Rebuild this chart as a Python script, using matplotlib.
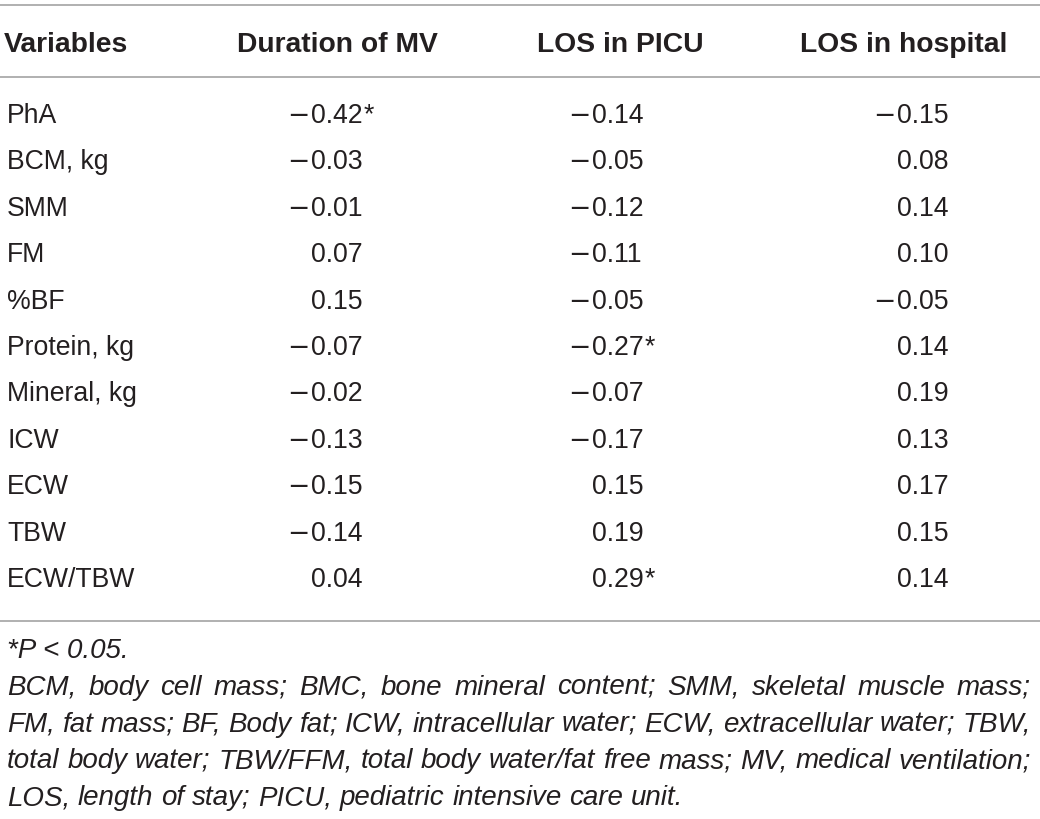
import matplotlib
matplotlib.use("Agg")
import matplotlib.pyplot as plt

# table contents
headers = ["Variables", "Duration of MV", "LOS in PICU", "LOS in hospital"]
variables = ["PhA", "BCM, kg", "SMM", "FM", "%BF", "Protein, kg", "Mineral, kg",
             "ICW", "ECW", "TBW", "ECW/TBW"]
mv = [-0.42, -0.03, -0.01, 0.07, 0.15, -0.07, -0.02, -0.13, -0.15, -0.14, 0.04]
picu = [-0.14, -0.05, -0.12, -0.11, -0.05, -0.27, -0.07, -0.17, 0.15, 0.19, 0.29]
hosp = [-0.15, 0.08, 0.14, 0.10, -0.05, 0.14, 0.19, 0.13, 0.17, 0.15, 0.14]
# significant (P < 0.05) cells
mv_sig = ["PhA"]
picu_sig = ["Protein, kg", "ECW/TBW"]
hosp_sig = []

note_p = "*P < 0.05."
note_lines = [
    "BCM, body cell mass; BMC, bone mineral content; SMM, skeletal muscle mass;",
    "FM, fat mass; BF, Body fat; ICW, intracellular water; ECW, extracellular water; TBW,",
    "total body water; TBW/FFM, total body water/fat free mass; MV, medical ventilation;",
    "LOS, length of stay; PICU, pediatric intensive care unit.",
]

FONT = "Liberation Sans"
TXT = "#231f20"
LINE = "#a3a3a3"
FS = 19.2      # body
FS_HEAD = 20.3
FS_NOTE = 20

fig = plt.figure(figsize=(10.4, 8.19), dpi=100)
ax = fig.add_axes([0, 0, 1, 1])
ax.set_xlim(0, 1040)
ax.set_ylim(819, 0)
ax.axis("off")

# rules
for y in [5, 77, 621]:
    ax.plot([0, 1040], [y, y], color=LINE, lw=1.2, solid_capstyle="butt")

# header
head_x = [4, 237, 537, 800]
for hx, h in zip(head_x, headers):
    ax.text(hx, 52, h, ha="left", va="baseline", fontsize=FS_HEAD,
            fontweight="bold", family=FONT, color=TXT)

row_y0 = 123
row_step = 46.4
digit_x = [311, 592, 897]


def put_value(x, y, v):
    s = f"{abs(v):.2f}"
    t = ax.text(x, y, s, ha="left", va="baseline", fontsize=FS,
                family=FONT, color=TXT)
    if v < 0:
        ax.text(x - 1.5, y, "\u2212", ha="right", va="baseline", fontsize=FS,
                family="DejaVu Sans", color=TXT)
    return t


stars = []
for i, name in enumerate(variables):
    y = row_y0 + i * row_step
    ax.text(7, y, name, ha="left", va="baseline", fontsize=FS,
            family=FONT, color=TXT)
    for col, (vals, sig) in enumerate([(mv, mv_sig), (picu, picu_sig), (hosp, hosp_sig)]):
        t = put_value(digit_x[col], y, vals[i])
        if name in sig:
            stars.append((t, y))

fig.canvas.draw()
r = fig.canvas.get_renderer()
for t, y in stars:
    bb = t.get_window_extent(r)
    ax.text(bb.x1 + 0.5, y - 1, "*", ha="left", va="baseline", fontsize=FS,
            family=FONT, color=TXT)

# footnote
ax.text(7, 658, note_p, ha="left", va="baseline", fontsize=FS_NOTE,
        family=FONT, style="italic", color=TXT)

left, right = 7, 1031
note_y0 = 695
note_step = 36.7
for k, line in enumerate(note_lines):
    y = note_y0 + k * note_step
    words = line.split(" ")
    objs = [ax.text(0, y, w, ha="left", va="baseline", fontsize=FS_NOTE, family=FONT,
                    style="italic", color=TXT) for w in words]
    fig.canvas.draw()
    widths = [o.get_window_extent(r).width for o in objs]
    if k < len(note_lines) - 1:
        gap = (right - left - sum(widths)) / (len(words) - 1)
    else:
        sp = ax.text(0, y, "a a", fontsize=FS_NOTE, family=FONT, style="italic")
        aa = ax.text(0, y, "aa", fontsize=FS_NOTE, family=FONT, style="italic")
        fig.canvas.draw()
        gap = sp.get_window_extent(r).width - aa.get_window_extent(r).width
        sp.remove()
        aa.remove()
    x = left
    for o, w in zip(objs, widths):
        o.set_x(x)
        x += w + gap

fig.savefig("out.png", dpi=100, facecolor="white")
